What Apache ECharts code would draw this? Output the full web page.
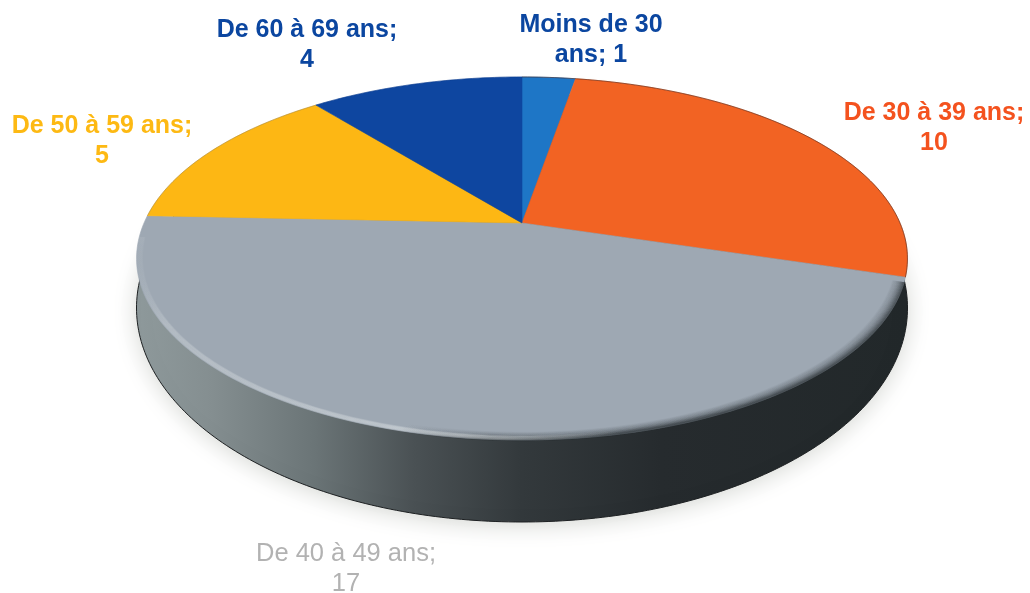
<!DOCTYPE html>
<html><head><meta charset="utf-8">
<style>html,body{margin:0;padding:0;background:#fff}#c{width:1030px;height:593px}</style>
<script src="https://cdn.jsdelivr.net/npm/echarts@6/dist/echarts.min.js"></script>
</head><body><div id="c"></div>
<script>
const categories = ['Moins de 30 ans', 'De 30 à 39 ans', 'De 40 à 49 ans', 'De 50 à 59 ans', 'De 60 à 69 ans'];
const values = [1, 10, 17, 5, 4];
const labelLines = [
  'Moins de 30\nans; 1',
  'De 30 à 39 ans;\n10',
  'De 40 à 49 ans;\n17',
  'De 50 à 59 ans;\n5',
  'De 60 à 69 ans;\n4'
];
const sliceColors = ['#1e76c6', '#f26323', '#9ea8b3', '#fdb714', '#0e46a0'];
const labelColors = ['#0b46a0', '#f4521e', '#b2b2b2', '#fdb913', '#0b46a0'];
const labelWeights = ['bold', 'bold', 'normal', 'bold', 'bold'];
const labelSizes = [25, 25, 25.5, 25, 25];
const labelCenters = [[591, 40], [934, 128], [346, 569], [102, 141], [307, 45]];

// Perspective view of the disc
const view = { cx: 522, cy: 223, A: 378, h: 174.6, k: 0.1956 };
const base = { cx: 522, cy: 308, rx: 385.5, ry: 214 };
const total = values.reduce((a, b) => a + b, 0);

function project(deg, r) {
  const t = deg * Math.PI / 180, u = r * Math.sin(t), v = r * Math.cos(t), w = 1 + view.k * v;
  return [view.cx + view.A * u / w, view.cy - view.h * v / w];
}
function arc(a0, a1, r) {
  const out = [], n = Math.max(2, Math.ceil(Math.abs(a1 - a0)));
  for (let i = 0; i <= n; i++) out.push(project(a0 + (a1 - a0) * i / n, r));
  return out;
}
function sliceAngles(i) {
  const before = values.slice(0, i).reduce((a, b) => a + b, 0);
  return [before / total * 360, (before + values[i]) / total * 360];
}
function hGrad(stops) {
  return new echarts.graphic.LinearGradient(0, 0, 1, 0, stops.map(s => ({ offset: s[0], color: s[1] })));
}

const chart = echarts.init(document.getElementById('c'), null, { renderer: 'canvas' });
chart.setOption({
  animation: false,
  backgroundColor: '#ffffff',
  series: [
    { // body of the disc
      type: 'custom', coordinateSystem: 'none', silent: true, z: 1, data: [0],
      renderItem: function () {
        const pts = [];
        for (let a = 0; a < 360; a += 1) {
          const t = a * Math.PI / 180;
          pts.push([base.cx + base.rx * Math.cos(t), base.cy + base.ry * Math.sin(t)]);
        }
        return {
          type: 'polygon', shape: { points: pts },
          style: {
            fill: hGrad([[0, '#8f9a9c'], [0.1, '#848e90'], [0.23, '#6b7577'], [0.36, '#4a5154'], [0.5, '#33393c'], [0.68, '#262b2e'], [1, '#22282a']]),
            stroke: '#1d2022', lineWidth: 1,
            shadowBlur: 22, shadowColor: 'rgba(70,80,60,0.22)', shadowOffsetY: 3
          }
        };
      }
    },
    { // top-face slices
      type: 'custom', coordinateSystem: 'none', silent: true, z: 2,
      data: values.map((v, i) => ({ value: v, name: categories[i] })),
      renderItem: function (params) {
        const i = params.dataIndex, ang = sliceAngles(i);
        return {
          type: 'polygon',
          shape: { points: [[view.cx, view.cy]].concat(arc(ang[0], ang[1], 1)) },
          style: { fill: sliceColors[i], stroke: sliceColors[i], lineWidth: 0.6 }
        };
      }
    },
    { // rim shading on the large front slice and thin outline at the back
      type: 'custom', coordinateSystem: 'none', silent: true, z: 3, data: [0],
      renderItem: function () {
        const ang = sliceAngles(2);
        const backEnd = sliceAngles(1)[1];
        const backStart = sliceAngles(3)[0];
        const children = [];
        for (let j = 0; j < 12; j++) {
          const f = 1 - j / 11, alpha = 0.04 + 0.34 * f * f;
          children.push({ type: 'polyline', shape: { points: arc(ang[0] + 1.5, 195, 1 - j * 0.0024) },
            style: { fill: null, lineWidth: 2.4, lineCap: 'butt',
              stroke: hGrad([[0, 'rgba(34,40,43,0)'], [0.18, 'rgba(34,40,43,' + alpha + ')'], [1, 'rgba(34,40,43,' + alpha + ')']]) } });
        }
        for (let j = 0; j < 7; j++) {
          children.push({ type: 'polyline', shape: { points: arc(168, ang[1] - 7, 0.998 - j * 0.002) },
            style: { fill: null, lineWidth: 1.6, lineCap: 'butt',
              stroke: hGrad([[0, 'rgba(222,227,229,0.03)'], [0.06, 'rgba(222,227,229,0.16)'], [0.68, 'rgba(222,227,229,0.22)'], [1, 'rgba(222,227,229,0)']]) } });
        }
        children.push({ type: 'polyline', shape: { points: arc(0, backEnd, 1) },
          style: { fill: null, stroke: 'rgba(70,30,20,0.55)', lineWidth: 1 } });
        children.push({ type: 'polyline', shape: { points: arc(backStart, 360, 1) },
          style: { fill: null, stroke: 'rgba(10,40,110,0.25)', lineWidth: 0.8 } });
        return { type: 'group', children: children };
      }
    },
    { // data labels
      type: 'custom', coordinateSystem: 'none', silent: true, z: 4,
      data: values.map((v, i) => ({ value: v, name: categories[i] })),
      renderItem: function (params) {
        const i = params.dataIndex;
        return {
          type: 'text',
          x: labelCenters[i][0], y: labelCenters[i][1],
          style: {
            text: labelLines[i], align: 'center', verticalAlign: 'middle',
            font: labelWeights[i] + ' ' + labelSizes[i] + 'px "Liberation Sans", Arial, sans-serif',
            lineHeight: 30, fill: labelColors[i]
          }
        };
      }
    }
  ]
});
</script></body></html>
